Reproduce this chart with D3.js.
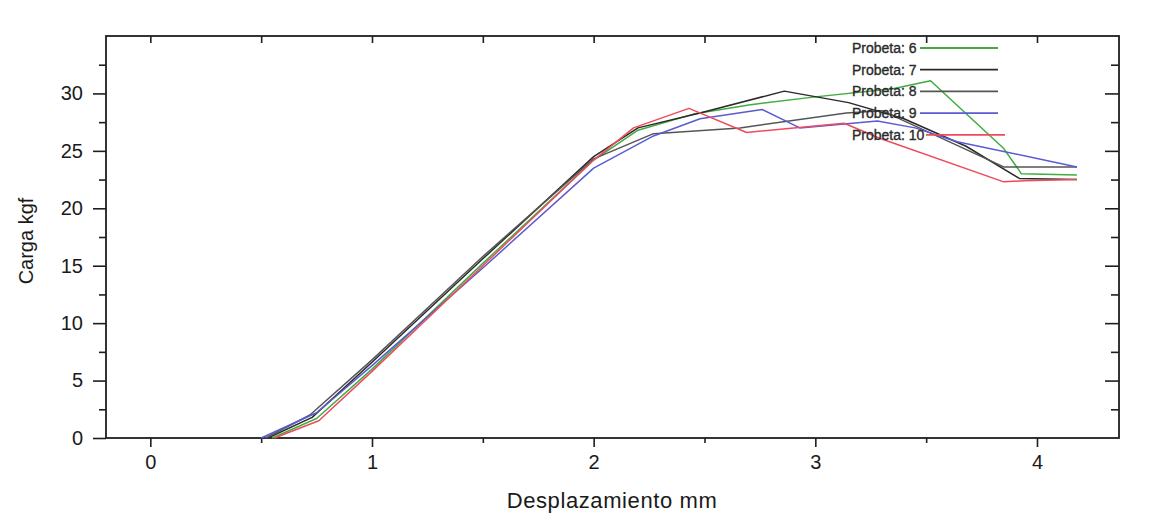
<!DOCTYPE html>
<html>
<head>
<meta charset="utf-8">
<script src="https://cdn.jsdelivr.net/npm/d3@7"></script>
<style>
  html, body { margin: 0; padding: 0; background: #ffffff; }
  svg { display: block; font-family: "Liberation Sans", Arial, sans-serif; }
</style>
</head>
<body>
<svg id="chart" width="1168" height="531"></svg>
<script>
// ---------- data ----------
const seriesNames = ["Probeta: 6", "Probeta: 7", "Probeta: 8", "Probeta: 9", "Probeta: 10"];
const seriesColors = ["#40ac40", "#2a2a2a", "#555555", "#5a5ad2", "#ee4b5c"];

const probeta6 = [[0.55,0],[0.75,1.7],[1.0,6.0],[1.5,15.2],[2.0,24.2],[2.2,26.8],[2.45,28.2],[2.7,29.0],[3.0,29.7],[3.35,30.4],[3.52,31.1],[3.85,25.2],[3.93,23.0],[4.18,22.9]];
const probeta7 = [[0.53,0],[0.73,1.8],[1.0,6.6],[1.5,15.6],[2.0,24.5],[2.2,27.0],[2.48,28.3],[2.86,30.2],[3.15,29.2],[3.4,27.8],[3.68,25.4],[3.92,22.6],[4.18,22.5]];
const probeta8 = [[0.52,0],[0.72,2.0],[1.0,6.8],[1.5,15.8],[2.0,24.3],[2.27,26.5],[2.66,27.0],[3.14,28.3],[3.3,28.5],[3.85,23.6],[4.18,23.6]];
const probeta9 = [[0.5,0],[0.75,2.2],[1.0,6.3],[1.5,14.8],[2.0,23.5],[2.27,26.3],[2.48,27.8],[2.76,28.6],[2.93,27.0],[3.28,27.6],[3.45,27.0],[3.64,25.8],[4.18,23.6]];
const probeta10 = [[0.56,0],[0.76,1.5],[1.0,5.8],[1.5,15.0],[2.0,24.2],[2.18,27.0],[2.43,28.7],[2.69,26.6],[3.13,27.4],[3.29,26.1],[3.85,22.3],[3.94,22.4],[4.18,22.5]];
const seriesValues = [probeta6, probeta7, probeta8, probeta9, probeta10];

const xMajorTicks = [0, 1, 2, 3, 4];
const xMinorTicks = [0.5, 1.5, 2.5, 3.5];
const yMajorTicks = [0, 5, 10, 15, 20, 25, 30];
const yMinorTicks = [2.5, 7.5, 12.5, 17.5, 22.5, 27.5, 32.5];
const xDomain = [-0.2, 4.37];
const yDomain = [0, 35];
const xTitle = "Desplazamiento mm";
const yTitle = "Carga kgf";

// ---------- layout ----------
const svg = d3.select("#chart");
const mLeft = 106, mRight = 1119, mTop = 36, mBottom = 438;
const x = d3.scaleLinear().domain(xDomain).range([mLeft, mRight]);
const y = d3.scaleLinear().domain(yDomain).range([mBottom, mTop]);
const axisColor = "#1e1e1e";

// frame
svg.append("rect")
  .attr("x", mLeft).attr("y", mTop)
  .attr("width", mRight - mLeft).attr("height", mBottom - mTop)
  .attr("fill", "none").attr("stroke", axisColor).attr("stroke-width", 1.8);

// bottom axis
const gx = svg.append("g").attr("transform", `translate(0,${mBottom})`)
  .call(d3.axisBottom(x).tickValues(xMajorTicks).tickSize(9).tickPadding(8).tickFormat(d3.format("d")));
const gxm = svg.append("g").attr("transform", `translate(0,${mBottom})`)
  .call(d3.axisBottom(x).tickValues(xMinorTicks).tickSize(5).tickFormat(""));
// left axis
const gy = svg.append("g").attr("transform", `translate(${mLeft},0)`)
  .call(d3.axisLeft(y).tickValues(yMajorTicks).tickSize(13).tickPadding(10).tickFormat(d3.format("d")));
const gym = svg.append("g").attr("transform", `translate(${mLeft},0)`)
  .call(d3.axisLeft(y).tickValues(yMinorTicks).tickSize(7).tickFormat(""));
// top axis (inward)
const gt = svg.append("g").attr("transform", `translate(0,${mTop})`)
  .call(d3.axisBottom(x).tickValues(xMajorTicks.concat(xMinorTicks)).tickSize(7).tickFormat(""));
// right axis (inward)
const gr = svg.append("g").attr("transform", `translate(${mRight},0)`)
  .call(d3.axisLeft(y).tickValues(yMajorTicks.slice(1)).tickSize(14).tickFormat(""));
const grm = svg.append("g").attr("transform", `translate(${mRight},0)`)
  .call(d3.axisLeft(y).tickValues(yMinorTicks).tickSize(8).tickFormat(""));

[gx, gxm, gy, gym, gt, gr, grm].forEach(g => {
  g.select(".domain").remove();
  g.selectAll(".tick line").attr("stroke", axisColor).attr("stroke-width", 1.6);
  g.selectAll(".tick text").attr("fill", "#1a1a1a").attr("font-size", 20)
    .attr("font-family", "'Liberation Sans', Arial, sans-serif");
});

// titles
svg.append("text")
  .attr("x", 612).attr("y", 508)
  .attr("text-anchor", "middle").attr("font-size", 22).attr("fill", "#1a1a1a")
  .attr("letter-spacing", 0.6)
  .text(xTitle);
svg.append("text")
  .attr("transform", `translate(33,${(mTop + mBottom) / 2 + 4}) rotate(-90)`)
  .attr("text-anchor", "middle").attr("font-size", 20).attr("fill", "#1a1a1a")
  .text(yTitle);

// lines
const line = d3.line().x(d => x(d[0])).y(d => y(d[1]));
const plot = svg.append("g");
seriesValues.forEach((vals, i) => {
  plot.append("path")
    .datum(vals)
    .attr("d", line)
    .attr("fill", "none")
    .attr("stroke", seriesColors[i])
    .attr("stroke-width", 1.5)
    .attr("stroke-linejoin", "round");
});

// legend
const legend = svg.append("g");
seriesNames.forEach((name, i) => {
  const ly = 48 + i * 21.7;
  legend.append("text")
    .attr("x", 852).attr("y", ly + 5)
    .attr("font-size", 14).attr("fill", "#2a2a2a")
    .attr("stroke", "#2a2a2a").attr("stroke-width", 0.35)
    .text(name);
  legend.append("line")
    .attr("x1", name.length > 10 ? 926 : 920).attr("x2", name.length > 10 ? 1005 : 998)
    .attr("y1", ly).attr("y2", ly)
    .attr("stroke", seriesColors[i]).attr("stroke-width", 1.8);
});
</script>
</body>
</html>
